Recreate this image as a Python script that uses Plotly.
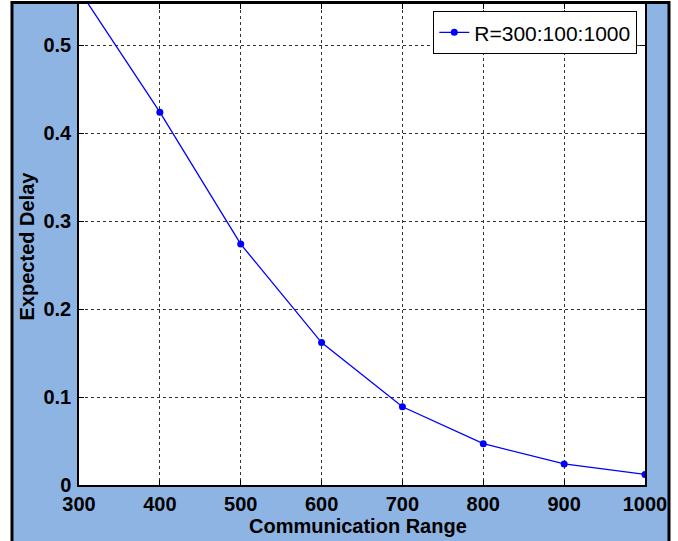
import plotly.graph_objects as go

comm_range = [300, 400, 500, 600, 700, 800, 900, 1000]
expected_delay = [0.563, 0.424, 0.274, 0.162, 0.089, 0.047, 0.024, 0.012]
series_name = "R=300:100:1000"
x_ticks = [300, 400, 500, 600, 700, 800, 900, 1000]
y_ticks = [0, 0.1, 0.2, 0.3, 0.4, 0.5]
y_tick_text = ["0", "0.1", "0.2", "0.3", "0.4", "0.5"]
x_title = "Communication Range"
y_title = "Expected Delay"

BG_BLUE = "#8EB4E3"
FONT = "Liberation Sans, Arial, sans-serif"

fig = go.Figure()
fig.add_trace(go.Scatter(
    x=comm_range, y=expected_delay, mode="lines+markers", name=series_name,
    line=dict(color="#0000FF", width=1.3),
    marker=dict(color="#0000FF", size=7),
    cliponaxis=True,
))

axis_common = dict(
    showline=True, linecolor="black", linewidth=1.5, mirror="ticks",
    ticks="inside", ticklen=5, tickcolor="black", tickwidth=1,
    showgrid=True, gridcolor="#333333", griddash="dot", gridwidth=1,
    zeroline=False,
    tickfont=dict(family=FONT, size=20, color="black", weight="bold"),
)

fig.update_xaxes(
    range=[300, 1000], tickmode="array", tickvals=x_ticks,
    ticktext=[str(v) for v in x_ticks],
    ticklabelstandoff=0,
    **axis_common,
)
fig.update_yaxes(
    range=[0, 0.547], tickmode="array", tickvals=y_ticks, ticktext=y_tick_text,
    ticklabelstandoff=2,
    **axis_common,
)

fig.update_layout(
    width=678, height=541,
    margin=dict(l=79, r=33, t=4, b=56, autoexpand=False),
    paper_bgcolor="white", plot_bgcolor="white",
    showlegend=True,
    legend=dict(
        x=0.986, y=0.9855, xanchor="right", yanchor="top",
        bgcolor="white", bordercolor="black", borderwidth=1.2,
        font=dict(family=FONT, size=21, color="black"),
        itemwidth=30,
    ),
    annotations=[
        dict(text="<b>" + x_title + "</b>", xref="paper", yref="paper",
             x=0.493, y=-0.086, xanchor="center", yanchor="middle", showarrow=False,
             font=dict(family=FONT, size=20, color="black")),
        dict(text="<b>" + y_title + "</b>", xref="paper", yref="paper",
             x=-0.0919, y=0.498, xanchor="center", yanchor="middle", showarrow=False,
             textangle=-90, font=dict(family=FONT, size=20, color="black")),
    ],
    shapes=[
        dict(type="rect", xref="paper", yref="paper",
             x0=-0.1184, x1=1.0424, y0=-0.2, y1=1.0031,
             fillcolor=BG_BLUE, line=dict(color="black", width=3), layer="below"),
        dict(type="rect", xref="paper", yref="paper",
             x0=0, x1=1, y0=0, y1=1,
             fillcolor="white", line=dict(width=0), layer="below"),
    ],
)

fig.write_html("out.html")
